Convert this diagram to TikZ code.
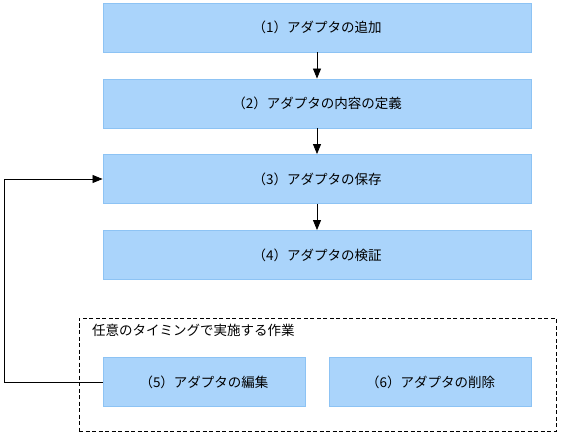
\documentclass[tikz,border=0pt]{standalone}
\usepackage{fontspec}
\usepackage{xcolor}
\usepackage{tikz}
\usetikzlibrary{arrows.meta,calc,positioning}
\newfontfamily\jpfont{Noto Sans CJK JP}
\definecolor{stepfill}{HTML}{AAD4FB}
\definecolor{stepline}{HTML}{8DC3F4}
\tikzset{
  stepbox/.style={draw=stepline,fill=stepfill,line width=0.9pt,minimum width=428pt,minimum height=49pt,font=\jpfont\fontsize{13.5}{16}\selectfont,inner sep=0pt},
  halfbox/.style={stepbox,minimum width=202pt},
  flow/.style={line width=0.8pt,-{Triangle[length=10pt,width=8pt]}},
  groupbox/.style={draw,dash pattern=on 4pt off 2.5pt,line width=0.9pt,minimum width=477pt,minimum height=113pt,inner sep=0pt},
}
\begin{document}
\begin{tikzpicture}[x=1pt,y=-1pt]
  \useasboundingbox (0,0) rectangle (561,435);
  \node[groupbox] (grp) at (317.5,374.5) {};
  \node[anchor=west,font=\jpfont\fontsize{13.5}{16}\selectfont,inner sep=0pt] (grplbl) at (92,330) {任意のタイミングで実施する作業};
  \node[stepbox] (s1) at (317,27.5) {（1）アダプタの追加};
  \node[stepbox] (s2) at (317,103.5) {（2）アダプタの内容の定義};
  \node[stepbox] (s3) at (317,179) {（3）アダプタの保存};
  \node[stepbox] (s4) at (317,255) {（4）アダプタの検証};
  \node[halfbox] (s5) at (204,382) {（5）アダプタの編集};
  \node[halfbox] (s6) at (430.5,382) {（6）アダプタの削除};
  \draw[flow] (s1) -- (s2);
  \draw[flow] (s2) -- (s3);
  \draw[flow] (s3) -- (s4);
  % back to saving
  \coordinate (back) at (4,382);
  \draw[flow] (s5.west) -- (back) |- (s3.west);
\end{tikzpicture}
\end{document}
